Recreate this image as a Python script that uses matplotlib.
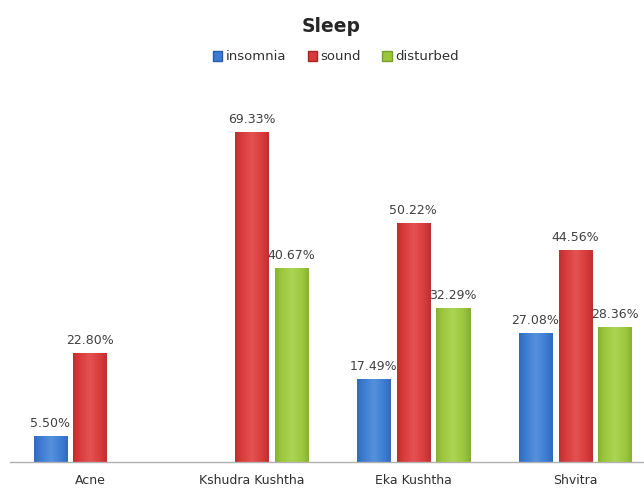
import matplotlib
matplotlib.use("Agg")
import matplotlib.pyplot as plt
import numpy as np
from matplotlib.colors import LinearSegmentedColormap
from matplotlib.patches import Patch

categories = ["Acne", "Kshudra Kushtha", "Eka Kushtha", "Shvitra"]
series_names = ["insomnia", "sound", "disturbed"]
insomnia = [5.50, None, 17.49, 27.08]
sound = [22.80, 69.33, 50.22, 44.56]
disturbed = [None, 40.67, 32.29, 28.36]
series = [insomnia, sound, disturbed]

colors = ["#3c7bd2", "#d83a3a", "#9bc63c"]
dark = ["#2a5ea8", "#a82626", "#76a02a"]
light = ["#5590dc", "#e45252", "#acd455"]

fig = plt.figure(figsize=6.44 * np.array([1, 496 / 644]), dpi=100)
ax = fig.add_axes([10 / 644, (496 - 462) / 496, (644 - 10) / 644, (462 - 81) / 496])

x = np.arange(len(categories))
bw = 0.205
step = 0.245

for i, (vals, name) in enumerate(zip(series, series_names)):
    cmap = LinearSegmentedColormap.from_list(name, [dark[i], colors[i], light[i], colors[i], dark[i]])
    grad = np.linspace(0, 1, 64).reshape(1, -1)
    for j, v in enumerate(vals):
        if v is None:
            continue
        xc = x[j] + (i - 1) * step
        bars = ax.bar(xc, v, width=bw, color=colors[i], edgecolor=dark[i], linewidth=0.6, zorder=2)
        rect = bars[0]
        im = ax.imshow(grad, cmap=cmap, aspect="auto",
                       extent=[xc - bw / 2, xc + bw / 2, 0, v], zorder=2.5,
                       vmin=-0.15, vmax=1.15)
        im.set_clip_path(rect)
        ax.text(xc, v + 1.3, f"{v:.2f}%", ha="center", va="bottom",
                fontsize=9, color="#404040", zorder=4)

ax.set_aspect("auto")
ax.set_xlim(-0.494, 3.426)
ax.set_ylim(0, 80)

for s in ["top", "right", "left"]:
    ax.spines[s].set_visible(False)
ax.spines["bottom"].set_color("#b0b0b0")
ax.spines["bottom"].set_linewidth(1.0)
ax.set_yticks([])
ax.set_xticks(x)
ax.set_xticklabels(categories, fontsize=9, color="#303030")
ax.tick_params(axis="x", length=0, pad=9)

fig.text(331 / 644, 1 - 26 / 496, "Sleep", ha="center", va="center",
         fontsize=13.5, fontweight="bold", color="#262626")

handles = [Patch(facecolor=colors[i], edgecolor=dark[i], label=series_names[i]) for i in range(3)]
fig.legend(handles=handles, loc="center", bbox_to_anchor=(336 / 644, 1 - 57 / 496), ncol=3,
           frameon=False, fontsize=9.5, handlelength=0.7, handleheight=0.7,
           handletextpad=0.3, columnspacing=1.6, labelcolor="#303030")

fig.savefig("out.png", dpi=100, facecolor="white")
